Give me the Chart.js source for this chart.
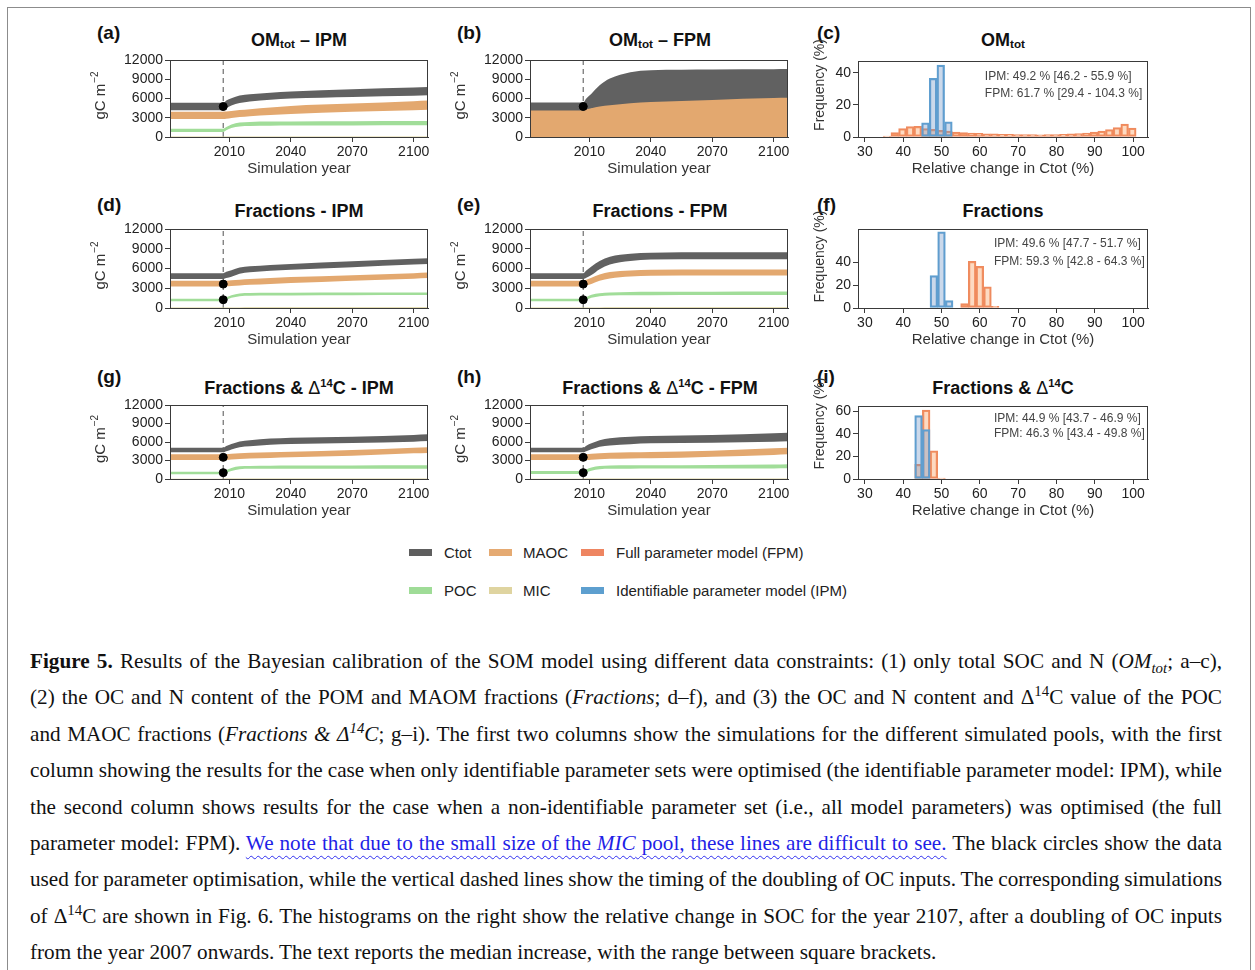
<!DOCTYPE html>
<html>
<head>
<meta charset="utf-8">
<script src="https://cdn.jsdelivr.net/npm/chart.js@4.4.1/dist/chart.umd.min.js"></script>
<style>
  body { margin: 0; background: #fff; width: 1255px; height: 970px; overflow: hidden; position: relative;
         font-family: "Liberation Sans", Arial, sans-serif; }
  .frame { position: absolute; left: 7px; top: 7px; width: 1242px; height: 1000px; border: 1px solid #8c8c8c; }
  canvas { position: absolute; }
  .letter { position: absolute; font-weight: bold; font-size: 19px; line-height: 1; color: #111; }
  .ttl { position: absolute; font-weight: bold; font-size: 18px; line-height: 1; color: #111;
         transform: translateX(-50%); white-space: nowrap; }
  .ttl sub { font-size: 65%; line-height: 0; vertical-align: -0.2em; }
  .ttl sup { font-size: 62%; line-height: 0; vertical-align: 0.6em; }
  .ttl .dl { font-weight: normal; }
  .leg { position: absolute; font-size: 15px; line-height: 1; color: #222; white-space: nowrap; }
  .sw { position: absolute; width: 23px; height: 7px; }
  .cap { position: absolute; left: 30px; top: 643px; width: 1192px; font-family: "Liberation Serif", "Times New Roman", serif;
         font-size: 21.2px; line-height: 36.4px; color: #111; }
  .cap div { text-align: justify; text-align-last: justify; white-space: nowrap; word-spacing: -1.5px; }
  .cap div.last { text-align-last: left; word-spacing: 0; }
  .cap sub, .cap sup { font-size: 70%; line-height: 0; }
  .note { color: #1f1fe6; text-decoration: underline wavy #3030f0; text-decoration-thickness: 1px; text-underline-offset: 5px; }
</style>
</head>
<body>
<div class="frame"></div>

<div class="letter" style="left:97px;top:23px">(a)</div>
<div class="letter" style="left:457px;top:23px">(b)</div>
<div class="letter" style="left:817px;top:23px">(c)</div>
<div class="letter" style="left:97px;top:195px">(d)</div>
<div class="letter" style="left:457px;top:195px">(e)</div>
<div class="letter" style="left:817px;top:195px">(f)</div>
<div class="letter" style="left:97px;top:367px">(g)</div>
<div class="letter" style="left:457px;top:367px">(h)</div>
<div class="letter" style="left:817px;top:367px">(i)</div>

<div class="ttl" style="left:299px;top:31px">OM<sub>tot</sub> – IPM</div>
<div class="ttl" style="left:660px;top:31px">OM<sub>tot</sub> – FPM</div>
<div class="ttl" style="left:1003px;top:31px">OM<sub>tot</sub></div>
<div class="ttl" style="left:299px;top:202px">Fractions - IPM</div>
<div class="ttl" style="left:660px;top:202px">Fractions - FPM</div>
<div class="ttl" style="left:1003px;top:202px">Fractions</div>
<div class="ttl" style="left:299px;top:379px">Fractions &amp; <span class="dl">Δ</span><sup>14</sup>C - IPM</div>
<div class="ttl" style="left:660px;top:379px">Fractions &amp; <span class="dl">Δ</span><sup>14</sup>C - FPM</div>
<div class="ttl" style="left:1003px;top:379px">Fractions &amp; <span class="dl">Δ</span><sup>14</sup>C</div>

<!-- легенда -->
<div class="sw" style="left:409px;top:549px;background:#5e5e5e"></div><div class="leg" style="left:444px;top:545px">Ctot</div>
<div class="sw" style="left:489px;top:549px;background:#e5aa72"></div><div class="leg" style="left:523px;top:545px">MAOC</div>
<div class="sw" style="left:581px;top:549px;background:#ee8561"></div><div class="leg" style="left:616px;top:545px">Full parameter model (FPM)</div>
<div class="sw" style="left:409px;top:587px;background:#9fdc97"></div><div class="leg" style="left:444px;top:583px">POC</div>
<div class="sw" style="left:489px;top:587px;background:#dfd4a0"></div><div class="leg" style="left:523px;top:583px">MIC</div>
<div class="sw" style="left:581px;top:587px;background:#5d9fcf"></div><div class="leg" style="left:616px;top:583px">Identifiable parameter model (IPM)</div>

<div class="cap">
  <div><b>Figure 5.</b> Results of the Bayesian calibration of the SOM model using different data constraints: (1) only total SOC and N (<i>OM<sub>tot</sub></i>; a–c),</div>
  <div>(2) the OC and N content of the POM and MAOM fractions (<i>Fractions</i>; d–f), and (3) the OC and N content and Δ<sup>14</sup>C value of the POC</div>
  <div>and MAOC fractions (<i>Fractions &amp; Δ<sup>14</sup>C</i>; g–i). The first two columns show the simulations for the different simulated pools, with the first</div>
  <div>column showing the results for the case when only identifiable parameter sets were optimised (the identifiable parameter model: IPM), while</div>
  <div>the second column shows results for the case when a non-identifiable parameter set (i.e., all model parameters) was optimised (the full</div>
  <div>parameter model: FPM). <span class="note">We note that due to the small size of the <i>MIC</i> pool, these lines are difficult to see.</span> The black circles show the data</div>
  <div>used for parameter optimisation, while the vertical dashed lines show the timing of the doubling of OC inputs. The corresponding simulations</div>
  <div>of Δ<sup>14</sup>C are shown in Fig. 6. The histograms on the right show the relative change in SOC for the year 2107, after a doubling of OC inputs</div>
  <div class="last">from the year 2007 onwards. The text reports the median increase, with the range between square brackets.</div>
</div>

<script>
// годы (узлы кривых) и подписи осей
const simYears = [1981, 2007, 2008.5, 2011, 2015, 2020, 2030, 2040, 2070, 2100, 2107];
const yearTicks = [2010, 2040, 2070, 2100];
const stockTicks = [0, 3000, 6000, 9000, 12000];
const changeTicks = [30, 40, 50, 60, 70, 80, 90, 100];
const doublingYear = 2007;

// (a) OMtot - IPM
const aCtotHi = [5320, 5320, 5700, 6050, 6450, 6650, 6900, 7100, 7450, 7720, 7800];
const aCtotLo = [4150, 4150, 4500, 4900, 5300, 5550, 5800, 6000, 6250, 6430, 6500];
const aMaocHi = [3950, 3950, 3980, 4050, 4200, 4330, 4600, 4850, 5220, 5580, 5680];
const aMaocLo = [2800, 2800, 2830, 2950, 3100, 3230, 3420, 3600, 3920, 4170, 4230];
const aPocHi = [1300, 1300, 1550, 1950, 2250, 2350, 2400, 2420, 2460, 2500, 2500];
const aPocLo = [780, 780, 1050, 1400, 1650, 1720, 1770, 1790, 1810, 1830, 1830];
const aObs = [4750];

// (b) OMtot - FPM
const bCtotHi = [5390, 5390, 6000, 6750, 8050, 9100, 10100, 10420, 10530, 10570, 10580];
const bCtotLo = [4000, 4000, 4200, 4400, 4600, 4800, 5100, 5300, 5600, 5900, 5950];
const bMaocHi = [4120, 4120, 4300, 4500, 4750, 4950, 5250, 5450, 5770, 6060, 6100];
const bMaocLo = [0, 0, 0, 0, 0, 0, 0, 0, 0, 0, 0];
const bPocHi = [1400, 1400, 1650, 2000, 2250, 2350, 2420, 2450, 2480, 2500, 2500];
const bPocLo = [1000, 1000, 1250, 1550, 1800, 1880, 1930, 1950, 1970, 1980, 1980];
const bObs = [4760];

// (d) Fractions - IPM
const dCtotHi = [5290, 5290, 5500, 5750, 6150, 6330, 6550, 6700, 7100, 7500, 7560];
const dCtotLo = [4400, 4400, 4550, 4750, 5200, 5420, 5650, 5800, 6200, 6600, 6700];
const dMaocHi = [4130, 4130, 4150, 4200, 4300, 4400, 4560, 4690, 4990, 5290, 5390];
const dMaocLo = [3280, 3280, 3300, 3350, 3430, 3520, 3660, 3780, 4130, 4440, 4540];
const dPocHi = [1410, 1410, 1650, 1950, 2200, 2270, 2300, 2310, 2340, 2370, 2370];
const dPocLo = [1010, 1010, 1250, 1550, 1800, 1870, 1900, 1910, 1940, 1970, 1970];
const dObs = [3630, 1260];

// (e) Fractions - FPM
const eCtotHi = [5290, 5290, 5700, 6300, 7150, 7800, 8250, 8400, 8450, 8450, 8450];
const eCtotLo = [4400, 4400, 4600, 5000, 5900, 6600, 7150, 7350, 7420, 7420, 7420];
const eMaocHi = [4130, 4130, 4300, 4600, 5100, 5450, 5700, 5800, 5850, 5850, 5850];
const eMaocLo = [3280, 3280, 3400, 3650, 4150, 4500, 4800, 4900, 4950, 4950, 4950];
const ePocHi = [1410, 1410, 1650, 2000, 2250, 2350, 2420, 2450, 2480, 2500, 2500];
const ePocLo = [1010, 1010, 1250, 1550, 1800, 1880, 1930, 1950, 1970, 1980, 1980];
const eObs = [3630, 1260];

// (g) Fractions & D14C - IPM
const gCtotHi = [5080, 5080, 5350, 5680, 6100, 6300, 6550, 6700, 6870, 7130, 7240];
const gCtotLo = [4320, 4320, 4500, 4800, 5150, 5300, 5550, 5670, 5840, 6050, 6160];
const gMaocHi = [4000, 4000, 4020, 4080, 4180, 4250, 4350, 4430, 4700, 5080, 5130];
const gMaocLo = [3080, 3080, 3100, 3150, 3250, 3320, 3420, 3510, 3780, 4160, 4220];
const gPocHi = [1190, 1190, 1450, 1800, 2050, 2110, 2150, 2170, 2190, 2210, 2220];
const gPocLo = [760, 760, 1000, 1300, 1600, 1680, 1680, 1680, 1680, 1680, 1680];
const gObs = [3510, 1030];

// (h) Fractions & D14C - FPM
const hCtotHi = [5080, 5080, 5400, 5780, 6300, 6600, 6850, 6970, 7140, 7400, 7510];
const hCtotLo = [4320, 4320, 4500, 4810, 5250, 5450, 5650, 5780, 5890, 6050, 6110];
const hMaocHi = [4000, 4000, 4020, 4080, 4180, 4250, 4320, 4380, 4600, 4970, 5080];
const hMaocLo = [3080, 3080, 3100, 3140, 3220, 3270, 3320, 3350, 3620, 3890, 4000];
const hPocHi = [1300, 1300, 1550, 1850, 2100, 2200, 2210, 2220, 2260, 2340, 2380];
const hPocLo = [810, 810, 1050, 1350, 1600, 1670, 1680, 1690, 1700, 1720, 1730];
const hObs = [3510, 1030];

// MIC - очень маленький пул (почти не виден)
const micHi = [60, 60, 70, 80, 90, 95, 95, 95, 95, 95, 95];
const micLo = [0, 0, 0, 0, 0, 0, 0, 0, 0, 0, 0];

// гистограммы: центры интервалов и частоты (%)
const cFpmBins = [35.8, 37.8, 39.8, 41.8, 43.8, 45.8, 47.8, 49.8, 51.8, 53.8, 55.8, 57.8, 59.8, 61.8, 63.8, 65.8, 67.8,
                  69.8, 71.8, 73.8, 75.8, 77.8, 79.8, 81.8, 83.8, 85.8, 87.8, 89.8, 91.8, 93.8, 95.8, 97.8, 99.8];
const cFpm = [0.6, 2.7, 5.2, 6.5, 6.7, 5.2, 4.8, 4.2, 3.75, 3.1, 2.7, 2.5, 2.3, 1.9, 1.9, 1.7, 1.7,
              1.5, 1.5, 1.5, 1.3, 1.5, 1.5, 1.7, 1.9, 2.1, 2.5, 3.1, 3.75, 4.6, 5.8, 8.1, 5.6];
const cIpmBins = [45.8, 47.8, 49.8, 51.8];
const cIpm = [8.8, 36.5, 44.8, 9.4];

const fFpmBins = [56, 58, 60, 62, 64];
const fFpm = [3.8, 40.8, 36.4, 18.4, 1.5];
const fIpmBins = [48, 50, 52];
const fIpm = [28.3, 66.5, 6.4];

const iFpmBins = [44, 46, 48, 50];
const iFpm = [12.9, 61, 24.9, 0.9];
const iIpmBins = [44, 46];
const iIpm = [56, 43.6];

const cText = ['IPM: 49.2 % [46.2 - 55.9 %]', 'FPM: 61.7 % [29.4 - 104.3 %]'];
const fText = ['IPM: 49.6 % [47.7 - 51.7 %]', 'FPM: 59.3 % [42.8 - 64.3 %]'];
const iText = ['IPM: 44.9 % [43.7 - 46.9 %]', 'FPM: 46.3 % [43.4 - 49.8 %]'];

// цвета
const colCtot = '#616161';
const colMaoc = '#e3a86f';
const colPoc = '#a1dd99';
const colMic = '#dcd29c';
const colFpmEdge = '#ef8a5e';
const colFpmFill = 'rgba(250, 168, 110, 0.42)';
const colIpmEdge = '#5f9fd0';
const colIpmFill = 'rgba(110, 150, 200, 0.36)';
const colAxis = '#3a3a3a';
const FONT = '"Liberation Sans", Arial, sans-serif';
const PAD_TOP = 40;

Chart.defaults.font.family = FONT;
Chart.defaults.color = '#222';

// рамка вокруг области графика
const framePlugin = {
    id: 'frame',
    afterDatasetsDraw(chart) {
        const { ctx, chartArea: a } = chart;
        ctx.save();
        ctx.strokeStyle = colAxis;
        ctx.lineWidth = 1;
        ctx.strokeRect(Math.round(a.left) + 0.5, Math.round(a.top) + 0.5, Math.round(a.right - a.left) - 1, Math.round(a.bottom - a.top));
        ctx.restore();
    }
};

// подпись оси Y (с верхним индексом)
const yTitlePlugin = {
    id: 'yTitle',
    afterDraw(chart, args, opts) {
        if (!opts.text) return;
        const { ctx, chartArea: a } = chart;
        const cx = a.left + opts.dx;
        const cy = (a.top + a.bottom) / 2 - (opts.shift || 0);
        ctx.save();
        ctx.translate(cx, cy);
        ctx.rotate(-Math.PI / 2);
        ctx.fillStyle = '#333';
        ctx.textBaseline = 'middle';
        ctx.textAlign = 'left';
        const main = opts.size + 'px ' + FONT, small = '10px ' + FONT;
        ctx.font = main;
        const w1 = ctx.measureText(opts.text).width;
        let w2 = 0;
        if (opts.sup) { ctx.font = small; w2 = ctx.measureText(opts.sup).width + 1; }
        const x0 = -(w1 + w2) / 2;
        ctx.font = main;
        ctx.fillText(opts.text, x0, 0);
        if (opts.sup) { ctx.font = small; ctx.fillText(opts.sup, x0 + w1 + 1, -6); }
        ctx.restore();
    }
};

// текст с медианой и диапазоном
const noteTextPlugin = {
    id: 'noteText',
    afterDraw(chart, args, opts) {
        if (!opts.lines) return;
        const { ctx, chartArea: a } = chart;
        const x = chart.scales.x.getPixelForValue(opts.atX);
        ctx.save();
        ctx.font = '12px ' + FONT;
        ctx.fillStyle = '#444';
        ctx.textBaseline = 'middle';
        ctx.textAlign = 'left';
        opts.lines.forEach((t, k) => ctx.fillText(t, x, a.top + opts.dy + k * opts.gap));
        ctx.restore();
    }
};

function xyData(xs, ys) {
    return ys.map((v, i) => ({ x: xs[i], y: v }));
}

function band(lo, hi, color, order) {
    return [
        { data: xyData(simYears, lo), borderColor: 'rgba(0,0,0,0)', borderWidth: 1, pointRadius: 0, fill: false,
          cubicInterpolationMode: 'monotone', order },
        { data: xyData(simYears, hi), borderColor: 'rgba(0,0,0,0)', borderWidth: 1, pointRadius: 0, backgroundColor: color,
          fill: '-1', cubicInterpolationMode: 'monotone', order }
    ];
}

function placeCanvas(box) {
    const [L, T, R, B] = box;
    const cv = document.createElement('canvas');
    const w = R - L + 80 + 12, h = B - T + PAD_TOP + 45;
    cv.width = w; cv.height = h;
    cv.style.left = (L - 80) + 'px';
    cv.style.top = (T - PAD_TOP) + 'px';
    cv.style.width = w + 'px'; cv.style.height = h + 'px';
    document.body.appendChild(cv);
    return cv;
}

function axisCommon() {
    return {
        grid: { display: true, drawOnChartArea: false, drawTicks: true, tickLength: 5, color: colAxis },
        border: { display: true, color: colAxis, width: 1 },
        ticks: { font: { size: 14 }, color: '#222', padding: 2, autoSkip: false, maxRotation: 0, callback: v => String(v) }
    };
}

function drawSimPanel(box, bands, obs) {
    const [ctotLo, ctotHi, maocLo, maocHi, pocLo, pocHi] = bands;
    const datasets = [
        { data: obs.map(v => ({ x: doublingYear, y: v })), showLine: false, pointRadius: 4, pointBackgroundColor: '#000',
          pointBorderColor: '#000', order: 0 },
        ...band(maocLo, maocHi, colMaoc, 1),
        ...band(micLo, micHi, colMic, 2),
        ...band(pocLo, pocHi, colPoc, 3),
        ...band(ctotLo, ctotHi, colCtot, 4),
        { data: [{ x: doublingYear, y: 0 }, { x: doublingYear, y: 12000 }], borderColor: '#6e6e6e', borderWidth: 1.2,
          borderDash: [5, 4], pointRadius: 0, fill: false, order: 9 }
    ];
    const xAx = axisCommon(), yAx = axisCommon();
    new Chart(placeCanvas(box), {
        type: 'line',
        data: { datasets },
        options: {
            responsive: false, animation: false, devicePixelRatio: 1,
            layout: { padding: { left: 0, right: 12, top: PAD_TOP, bottom: 0 } },
            plugins: { legend: { display: false }, tooltip: { enabled: false },
                       yTitle: { text: 'gC m', sup: '\u22122', size: 15, dx: -69, shift: 3 } },
            scales: {
                x: { ...xAx, type: 'linear', min: 1981, max: 2107,
                     afterBuildTicks: s => { s.ticks = yearTicks.map(v => ({ value: v })); },
                     afterFit: s => { s.height = 45; },
                     title: { display: true, text: 'Simulation year', font: { size: 15 }, color: '#333', padding: { top: 0, bottom: 4 } } },
                y: { ...yAx, type: 'linear', min: 0, max: 12000,
                     afterBuildTicks: s => { s.ticks = stockTicks.map(v => ({ value: v })); },
                     afterFit: s => { s.width = 80; } }
            }
        },
        plugins: [framePlugin, yTitlePlugin]
    });
}

function drawHistPanel(box, fpmBins, fpm, ipmBins, ipm, yMax, yTicks, lines, textX, titleShift, textDy, textGap) {
    const xAx = axisCommon(), yAx = axisCommon();
    new Chart(placeCanvas(box), {
        type: 'bar',
        data: {
            datasets: [
                { data: xyData(ipmBins, ipm), backgroundColor: colIpmFill, borderColor: colIpmEdge, borderWidth: 1.6,
                  borderSkipped: false, order: 0 },
                { data: xyData(fpmBins, fpm), backgroundColor: colFpmFill, borderColor: colFpmEdge, borderWidth: 1.6,
                  borderSkipped: false, order: 1 }
            ]
        },
        options: {
            responsive: false, animation: false, devicePixelRatio: 1,
            layout: { padding: { left: 0, right: 12, top: PAD_TOP, bottom: 0 } },
            datasets: { bar: { barPercentage: 1, categoryPercentage: 1, grouped: false } },
            plugins: { legend: { display: false }, tooltip: { enabled: false },
                       yTitle: { text: 'Frequency (%)', size: 14, dx: -38, shift: titleShift },
                       noteText: { lines, atX: textX, dy: textDy, gap: textGap } },
            scales: {
                x: { ...xAx, type: 'linear', min: 28.2, max: 103.9, offset: false,
                     grid: { ...xAx.grid, offset: false },
                     afterBuildTicks: s => { s.ticks = changeTicks.map(v => ({ value: v })); },
                     afterFit: s => { s.height = 45; },
                     title: { display: true, text: 'Relative change in Ctot (%)', font: { size: 15 }, color: '#333', padding: { top: 0, bottom: 4 } } },
                y: { ...yAx, type: 'linear', min: 0, max: yMax,
                     afterBuildTicks: s => { s.ticks = yTicks.map(v => ({ value: v })); },
                     afterFit: s => { s.width = 80; } }
            }
        },
        plugins: [framePlugin, yTitlePlugin, noteTextPlugin]
    });
}

drawSimPanel([170, 60, 428, 137], [aCtotLo, aCtotHi, aMaocLo, aMaocHi, aPocLo, aPocHi], aObs);
drawSimPanel([530, 60, 788, 137], [bCtotLo, bCtotHi, bMaocLo, bMaocHi, bPocLo, bPocHi], bObs);
drawSimPanel([170, 229, 428, 308], [dCtotLo, dCtotHi, dMaocLo, dMaocHi, dPocLo, dPocHi], dObs);
drawSimPanel([530, 229, 788, 308], [eCtotLo, eCtotHi, eMaocLo, eMaocHi, ePocLo, ePocHi], eObs);
drawSimPanel([170, 405, 428, 479], [gCtotLo, gCtotHi, gMaocLo, gMaocHi, gPocLo, gPocHi], gObs);
drawSimPanel([530, 405, 788, 479], [hCtotLo, hCtotHi, hMaocLo, hMaocHi, hPocLo, hPocHi], hObs);

drawHistPanel([858, 61, 1148, 137], cFpmBins, cFpm, cIpmBins, cIpm, 47.3, [0, 20, 40], cText, 61.3, 14, 16, 17);
drawHistPanel([858, 229, 1148, 308], fFpmBins, fFpm, fIpmBins, fIpm, 69, [0, 20, 40], fText, 63.7, 12, 15, 18);
drawHistPanel([858, 406, 1148, 479], iFpmBins, iFpm, iIpmBins, iIpm, 64.5, [0, 20, 40, 60], iText, 63.7, 19, 13, 15);
</script>
</body>
</html>
